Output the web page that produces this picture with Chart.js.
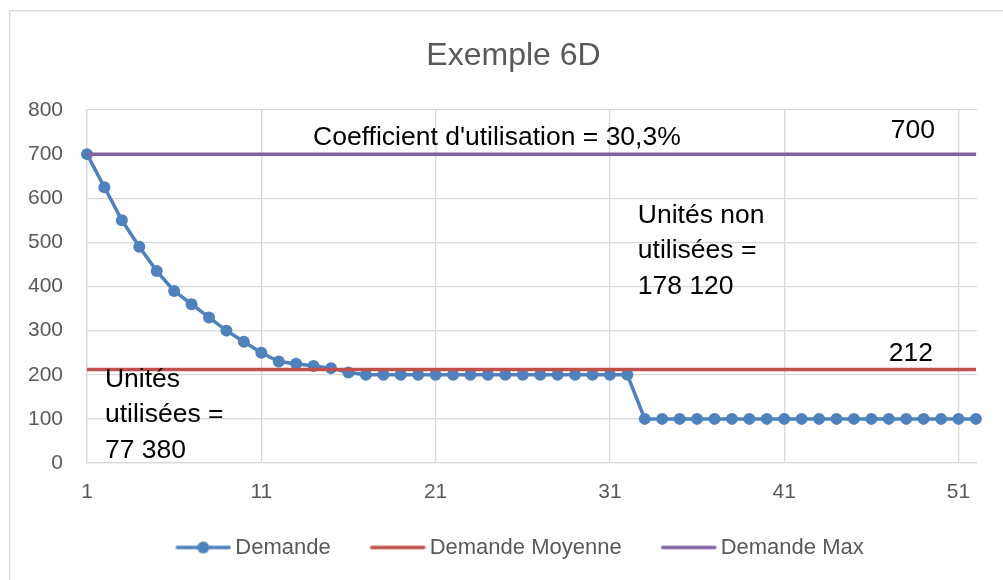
<!DOCTYPE html>
<html>
<head>
<meta charset="utf-8">
<script src="https://cdn.jsdelivr.net/npm/chart.js@4/dist/chart.umd.min.js"></script>
<style>
html,body{margin:0;padding:0;background:#fff;}
#wrap{width:1003px;height:580px;position:relative;}
</style>
</head>
<body>
<div id="wrap"><canvas id="c"></canvas></div>
<script>
const periods = [1,2,3,4,5,6,7,8,9,10,11,12,13,14,15,16,17,18,19,20,21,22,23,24,25,26,27,28,29,30,31,32,33,34,35,36,37,38,39,40,41,42,43,44,45,46,47,48,49,50,51,52];
const demande = [700,625,550,490,435,390,360,330,300,275,250,230,225,220,215,205,
  200,200,200,200,200,200,200,200,200,200,200,200,200,200,200,200,
  100,100,100,100,100,100,100,100,100,100,100,100,100,100,100,100,100,100,100,100];
const demandeMoyenne = 212;
const demandeMax = 700;
const xTickLabels = [1,11,21,31,41,51];
const yTickLabels = [0,100,200,300,400,500,600,700,800];
const seriesNames = ['Demande','Demande Moyenne','Demande Max'];
const seriesColors = ['#4F81BD','#C0504D','#8064A2'];
const chartTitle = 'Exemple 6D';
// annotations: text lines anchored in data units
const annotations = [
  {lines:["Coefficient d'utilisation = 30,3%"], x:13.97, y:720, align:'left'},
  {lines:['700'], x:49.65, y:737, align:'right'},
  {lines:['Unités non','utilisées =','178 120'], x:32.6, y:544, align:'left'},
  {lines:['212'], x:49.54, y:232, align:'right'},
  {lines:['Unités','utilisées =','77 380'], x:2.03, y:173, align:'left'}
];

const FONT = "'Liberation Sans', Arial, sans-serif";

function legendIcon(color, withDot){
  const cv = document.createElement('canvas');
  cv.width = 70; cv.height = 14;
  const g = cv.getContext('2d');
  g.strokeStyle = color; g.lineWidth = 3.5; g.lineCap = 'round';
  g.beginPath(); g.moveTo(16,7); g.lineTo(68,7); g.stroke();
  if (withDot){ g.fillStyle = color; g.beginPath(); g.arc(42,7,6,0,Math.PI*2); g.fill(); }
  return cv;
}
const icons = [legendIcon(seriesColors[0],true), legendIcon(seriesColors[1],false), legendIcon(seriesColors[2],false)];

const bgBorder = {
  id:'bgBorder',
  beforeDraw(chart){
    const ctx = chart.ctx;
    ctx.save();
    ctx.fillStyle = '#fff';
    ctx.fillRect(0,0,chart.width,chart.height);
    ctx.strokeStyle = '#D9D9D9';
    ctx.lineWidth = 1.5;
    ctx.strokeRect(9.75,10.75,1200,1200);
    ctx.restore();
  }
};

const shiftBlocks = {
  id:'shiftBlocks',
  afterLayout(chart){
    if (chart.legend) chart.legend.left = 55;
    if (chart.titleBlock) chart.titleBlock.left = 50;
  }
};

const annot = {
  id:'annot',
  afterDatasetsDraw(chart){
    const ctx = chart.ctx, xs = chart.scales.x, ys = chart.scales.y;
    ctx.save();
    ctx.font = "26.5px " + FONT;
    ctx.fillStyle = '#000';
    ctx.textBaseline = 'alphabetic';
    annotations.forEach(a => {
      const px = xs.getPixelForValue(a.x);
      const py = ys.getPixelForValue(a.y);
      ctx.textAlign = a.align;
      a.lines.forEach((t,i) => ctx.fillText(t, px, py + i*35.5));
    });
    ctx.restore();
  }
};

new Chart(document.getElementById('c'), {
  type:'line',
  data:{
    datasets:[
      {label:seriesNames[0], data:periods.map((p,i)=>({x:p,y:demande[i]})),
       borderColor:seriesColors[0], backgroundColor:seriesColors[0], borderWidth:3.5,
       pointRadius:6, pointBorderWidth:0, pointBackgroundColor:seriesColors[0], order:2, clip:false, tension:0},
      {label:seriesNames[1], data:[{x:periods[0],y:demandeMoyenne},{x:periods[periods.length-1],y:demandeMoyenne}],
       borderColor:seriesColors[1], backgroundColor:seriesColors[1], borderWidth:3.5, pointRadius:0, order:1, clip:false},
      {label:seriesNames[2], data:[{x:periods[0],y:demandeMax},{x:periods[periods.length-1],y:demandeMax}],
       borderColor:seriesColors[2], backgroundColor:seriesColors[2], borderWidth:3.5, pointRadius:0, order:1, clip:false}
    ]
  },
  options:{
    responsive:true, maintainAspectRatio:false, animation:false,
    layout:{padding:{left:0, right:26, top:0, bottom:11.5}},
    plugins:{
      tooltip:{enabled:false},
      title:{display:true, text:chartTitle, color:'#595959', font:{family:FONT, size:32, weight:'normal'}, padding:{top:37, bottom:34.6}},
      legend:{
        position:'bottom',
        labels:{
          usePointStyle:true, pointStyleWidth:56, padding:32,
          color:'#595959', font:{family:FONT, size:22},
          sort:(a,b)=>a.datasetIndex-b.datasetIndex,
          generateLabels(chart){
            const items = Chart.defaults.plugins.legend.labels.generateLabels(chart);
            items.forEach(it => { it.pointStyle = icons[it.datasetIndex]; });
            return items;
          }
        }
      }
    },
    scales:{
      x:{
        type:'linear', min:1, max:52.06,
        afterBuildTicks(s){ s.ticks = xTickLabels.map(v=>({value:v})); },
        afterFit(s){ s.height = 41.5; },
        grid:{color:'#D9D9D9', lineWidth:1.3, drawTicks:false},
        border:{color:'#D9D9D9', width:1.3},
        ticks:{color:'#595959', font:{family:FONT, size:21}, padding:17, maxRotation:0, autoSkip:false}
      },
      y:{
        min:0, max:800,
        afterBuildTicks(s){ s.ticks = yTickLabels.map(v=>({value:v})); },
        afterFit(s){ s.width = 87; },
        grid:{color:'#D9D9D9', lineWidth:1.3, drawTicks:false},
        border:{color:'#D9D9D9', width:1.3},
        ticks:{color:'#595959', font:{family:FONT, size:21}, padding:24}
      }
    }
  },
  plugins:[bgBorder, shiftBlocks, annot]
});
</script>
</body>
</html>
